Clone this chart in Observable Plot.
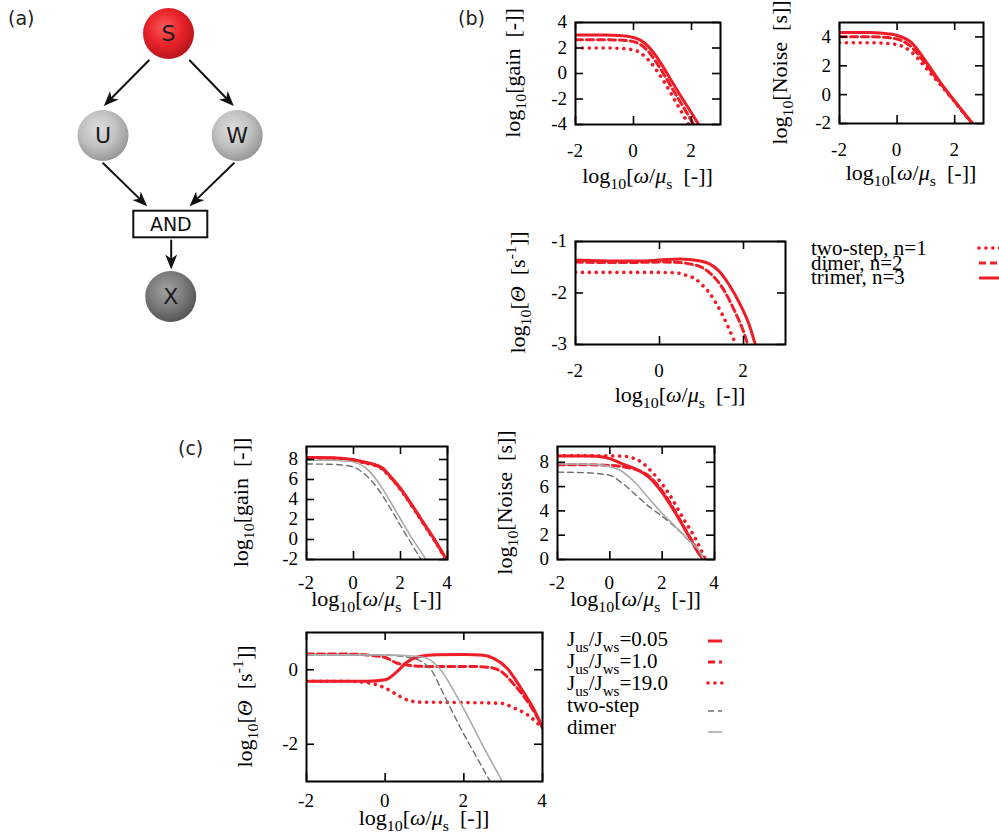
<!DOCTYPE html>
<html>
<head>
<meta charset="utf-8">
<script src="https://cdn.jsdelivr.net/npm/d3@7"></script>
<script src="https://cdn.jsdelivr.net/npm/@observablehq/plot@0.6"></script>
<style>
  html, body { margin: 0; padding: 0; background: #fff; }
  #fig { position: relative; width: 999px; height: 838px; overflow: hidden; background: #fff; }
  #fig svg { position: absolute; overflow: visible; }
</style>
</head>
<body>
<div id="fig"></div>
<script>
// ---------------- DATA ----------------
// (a) network diagram layout
const nodeNames = ["S", "U", "W", "X"];
const nodeX = [168, 102.5, 236.7, 170.2];
const nodeY = [33, 135, 135, 296];
const nodeGrad = ["gradS", "gradUW", "gradUW", "gradX"];
const edgeX1 = [148.3, 189.3, 102.7, 233.3, 170.7];
const edgeY1 = [60, 60, 162.7, 162.7, 240];
const edgeX2 = [103.3, 233.3, 146.7, 189, 170.7];
const edgeY2 = [105.5, 105.5, 205.7, 205.7, 269];
const andLabel = "AND";
const andX = [133.3, 207.3];
const andY = [210.7, 237.3];

// (b) gain
const bX_gain_twoStep = [-2, -1, -0.5, 0, 0.25, 0.5, 0.75, 1, 1.25, 1.5, 1.75, 1.9];
const bY_gain_twoStep = [2.0, 2.0, 1.97, 1.85, 1.6, 1.1, 0.4, -0.45, -1.4, -2.4, -3.4, -4.0];
const bX_gain_dimer = [-2, -1, -0.5, 0, 0.25, 0.5, 0.75, 1, 1.25, 1.5, 1.75, 2, 2.08];
const bY_gain_dimer = [2.65, 2.65, 2.62, 2.5, 2.25, 1.75, 1.0, 0.12, -0.85, -1.8, -2.75, -3.7, -4.0];
const bX_gain_trimer = [-2, -1, -0.5, 0, 0.25, 0.5, 0.75, 1, 1.25, 1.5, 1.75, 2, 2.25];
const bY_gain_trimer = [3.02, 3.02, 2.98, 2.82, 2.6, 2.15, 1.45, 0.6, -0.35, -1.3, -2.2, -3.1, -4.0];

// (b) noise
const bX_noise = [-2, -1, -0.5, 0, 0.5, 1, 1.5, 2, 2.5, 2.62];
const bY_noise_twoStep = [3.6, 3.6, 3.57, 3.47, 2.95, 1.85, 0.7, -0.5, -1.74, -2.0];
const bY_noise_dimer = [4.02, 4.02, 3.98, 3.85, 3.3, 2.1, 0.78, -0.47, -1.72, -2.0];
const bY_noise_trimer = [4.3, 4.3, 4.25, 4.1, 3.6, 2.3, 0.85, -0.45, -1.7, -2.0];

// (b) theta
const bX_theta_twoStep = [-2, -1, 0, 0.4, 0.65, 0.86, 1.0, 1.18, 1.49, 1.76, 1.82];
const bY_theta_twoStep = [-1.6, -1.6, -1.6, -1.61, -1.66, -1.73, -1.83, -1.99, -2.41, -2.89, -3.0];
const bX_theta_dimer = [-2, -1, 0, 0.5, 0.75, 1.0, 1.25, 1.5, 1.8, 2.0, 2.1];
const bY_theta_dimer = [-1.40, -1.41, -1.40, -1.41, -1.44, -1.5, -1.65, -1.9, -2.37, -2.75, -3.0];
const bX_theta_trimer = [-2, -1, -0.5, 0, 0.5, 0.9, 1.2, 1.4, 1.65, 1.95, 2.15, 2.28];
const bY_theta_trimer = [-1.36, -1.38, -1.38, -1.36, -1.34, -1.37, -1.44, -1.56, -1.83, -2.27, -2.65, -3.0];

// (c) gain
const cX_gain_red = [-2, -1, -0.5, 0, 0.5, 1, 1.25, 1.5, 2, 2.5, 3, 3.5, 3.96];
const cY_gain_j005 = [8.2, 8.18, 8.12, 7.97, 7.72, 7.42, 7.12, 6.5, 5.1, 3.4, 1.6, -0.2, -2.0];
const cY_gain_j10 = [8.17, 8.15, 8.09, 7.94, 7.68, 7.37, 7.05, 6.44, 5.05, 3.35, 1.55, -0.25, -2.05];
const cY_gain_j190 = [8.14, 8.12, 8.06, 7.91, 7.65, 7.33, 7.0, 6.4, 5.0, 3.3, 1.5, -0.3, -2.1];
const cX_gain_twoStep = [-2, -1, -0.5, 0, 0.5, 1, 1.5, 2, 2.5, 2.88];
const cY_gain_twoStep = [7.55, 7.52, 7.45, 7.24, 6.5, 5.2, 3.4, 1.4, -0.55, -2.0];
const cX_gain_dimer = [-2, -1, -0.5, 0, 0.5, 1, 1.5, 2, 2.5, 3, 3.08];
const cY_gain_dimer = [7.93, 7.92, 7.88, 7.75, 7.2, 5.9, 4.05, 2.05, 0.08, -1.7, -2.0];

// (c) noise
const cX_noise_j005 = [-2, -1, -0.5, 0, 0.5, 1, 1.5, 2, 2.5, 3, 3.5, 3.6];
const cY_noise_j005 = [8.52, 8.52, 8.5, 8.3, 7.85, 7.45, 6.75, 5.5, 3.85, 2.0, 0.2, 0.0];
const cX_noise_j10 = [-2, -1, -0.5, 0, 0.3, 0.6, 1, 1.5, 2, 2.5, 3, 3.5, 3.62];
const cY_noise_j10 = [7.8, 7.8, 7.78, 7.74, 7.7, 7.6, 7.4, 6.85, 5.65, 3.95, 2.05, 0.3, 0.0];
const cX_noise_j190 = [-2, -1, 0, 0.5, 0.75, 1, 1.25, 1.5, 1.78, 2.29, 2.8, 3.3, 3.65];
const cY_noise_j190 = [8.55, 8.55, 8.53, 8.5, 8.44, 8.25, 7.95, 7.45, 6.8, 5.3, 3.4, 1.6, 0.0];
const cX_noise_gray = [-2, -1, -0.5, 0, 0.5, 1, 1.5, 2, 2.5, 3, 3.5, 3.58];
const cY_noise_twoStep = [7.19, 7.15, 7.08, 6.92, 6.25, 5.3, 4.35, 3.55, 2.66, 1.6, 0.38, 0.0];
const cY_noise_dimer = [7.86, 7.85, 7.8, 7.65, 7.2, 6.25, 5.0, 3.8, 2.72, 1.63, 0.41, 0.0];

// (c) theta
const cX_theta_j005 = [-2, -1, -0.45, 0, 0.3, 0.55, 0.9, 1.3, 2, 2.5, 2.77, 3.1, 3.45, 3.79, 4];
const cY_theta_j005 = [-0.31, -0.31, -0.31, -0.27, -0.05, 0.2, 0.36, 0.4, 0.41, 0.39, 0.3, 0.04, -0.49, -1.08, -1.57];
const cX_theta_j10 = [-2, -1, -0.5, 0, 0.3, 0.6, 1, 2, 2.6, 2.94, 3.28, 3.62, 4];
const cY_theta_j10 = [0.42, 0.42, 0.4, 0.33, 0.18, 0.12, 0.09, 0.09, 0.07, -0.04, -0.4, -0.85, -1.52];
const cX_theta_j190 = [-2, -1, -0.5, 0, 0.3, 0.56, 0.9, 2, 2.94, 3.28, 3.62, 4];
const cY_theta_j190 = [-0.31, -0.31, -0.34, -0.49, -0.67, -0.81, -0.87, -0.88, -0.9, -1.03, -1.21, -1.57];
const cX_theta_twoStep = [-2, -1, 0, 0.5, 0.8, 1.0, 1.2, 1.41, 1.92, 2.3, 2.67];
const cY_theta_twoStep = [0.40, 0.40, 0.39, 0.35, 0.28, 0.17, -0.05, -0.49, -1.57, -2.3, -3.0];
const cX_theta_dimer = [-2, -1, 0, 0.5, 1, 1.25, 1.5, 1.75, 2, 2.43, 2.98];
const cY_theta_dimer = [0.40, 0.40, 0.40, 0.38, 0.33, 0.18, -0.13, -0.58, -1.05, -1.93, -3.0];

// ticks
const bXTicks = [-2, 0, 2];
const bGainYTicks = [-4, -2, 0, 2, 4];
const bNoiseYTicks = [-2, 0, 2, 4];
const bThetaYTicks = [-3, -2, -1];
const cXTicks = [-2, 0, 2, 4];
const cGainYTicks = [-2, 0, 2, 4, 6, 8];
const cNoiseYTicks = [0, 2, 4, 6, 8];
const cThetaYTicks = [-2, 0];

// legends
const legendBLabels = ["two-step, n=1", "dimer, n=2", "trimer, n=3"];
const legendBStyles = ["dotted", "dashed", "solid"];
const legendCRatios = ["0.05", "1.0", "19.0"];
const legendCStyles = ["solid", "dashed", "dotted", "grayDash", "graySolid"];
const legendCPlain = ["two-step", "dimer"];
const panelLetters = ["(a)", "(b)", "(c)"];

// ---------------- STYLES ----------------
const RED = "#ef1d27";
const lineStyles = {
  solid: {stroke: RED, strokeWidth: 3},
  dashed: {stroke: RED, strokeWidth: 3, strokeDasharray: "7,4"},
  dotted: {stroke: RED, strokeWidth: 3.6, strokeDasharray: "0.1,6.8", strokeLinecap: "round"},
  grayDash: {stroke: "#6f6f6f", strokeWidth: 1.4, strokeDasharray: "6,4"},
  graySolid: {stroke: "#ababab", strokeWidth: 1.6}
};
const SERIF = "'Liberation Serif', 'Times New Roman', serif";
const SANS = "'DejaVu Sans', sans-serif";
const LABEL_SIZE = 21, LABEL_STRETCH = 1.05;
const TICK_SIZE = 19, TICK_STRETCH = 1.0;

const fig = document.getElementById("fig");

function rich(sel, x, y, parts, o = {}) {
  const size = o.size || 21;
  const t = sel.append("text")
    .attr("transform", `translate(${x},${y})${o.rotate ? ` rotate(${o.rotate})` : ""}${o.stretch && o.stretch !== 1 ? ` scale(${o.stretch},1)` : ""}`)
    .attr("text-anchor", o.anchor || "start")
    .attr("font-family", SERIF)
    .attr("font-size", size)
    .attr("fill", "#000")
    .style("font-family", SERIF)
    .style("white-space", "pre");
  let cur = 0;
  for (const p of parts) {
    const shift = p.sub ? 0.28 * size : p.sup ? -0.42 * size : 0;
    const ts = t.append("tspan").text(p.t);
    if (p.sub || p.sup) ts.attr("font-size", size * 0.72);
    if (p.it) ts.attr("font-style", "italic");
    if (shift !== cur) { ts.attr("dy", shift - cur); cur = shift; }
  }
  return t;
}

const xLabelParts = [{t: "log"}, {t: "10", sub: 1}, {t: "["}, {t: "ω", it: 1}, {t: "/"}, {t: "μ", it: 1}, {t: "s", sub: 1}, {t: "  [-]]"}];
const gainLabel = [{t: "log"}, {t: "10", sub: 1}, {t: "[gain  [-]]"}];
const noiseLabel = [{t: "log"}, {t: "10", sub: 1}, {t: "[Noise  [s]]"}];
const thetaLabel = [{t: "log"}, {t: "10", sub: 1}, {t: "["}, {t: "Θ", it: 1}, {t: "  [s"}, {t: "-1", sup: 1}, {t: "]]"}];

function panel(cfg) {
  const [fx0, fy0, fx1, fy1] = cfg.frame;
  const mL = 85, mR = 20, mT = 15, mB = 70, TL = 8;
  const W = fx1 - fx0, H = fy1 - fy0;
  const marks = [];
  for (const s of cfg.series) {
    const data = s.x.map((x, i) => ({x, y: s.y[i]}));
    marks.push(Plot.line(data, {x: "x", y: "y", curve: "monotone-x", clip: true, ...lineStyles[s.style]}));
  }
  marks.push(Plot.frame({stroke: "#000", strokeWidth: 2}));
  marks.push(Plot.tickX(cfg.xt, {x: d => d, insetTop: H - TL, stroke: "#000", strokeWidth: 1.6}));
  marks.push(Plot.tickX(cfg.xt, {x: d => d, insetBottom: H - TL, stroke: "#000", strokeWidth: 1.6}));
  marks.push(Plot.tickY(cfg.yt, {y: d => d, insetRight: W - TL, stroke: "#000", strokeWidth: 1.6}));
  marks.push(Plot.tickY(cfg.yt, {y: d => d, insetLeft: W - TL, stroke: "#000", strokeWidth: 1.6}));
  const svg = Plot.plot({
    width: W + mL + mR, height: H + mT + mB,
    marginLeft: mL, marginRight: mR, marginTop: mT, marginBottom: mB,
    x: {domain: cfg.xd, axis: null},
    y: {domain: cfg.yd, axis: null},
    style: {background: "transparent", overflow: "visible"},
    marks
  });
  svg.style.left = (fx0 - mL) + "px";
  svg.style.top = (fy0 - mT) + "px";
  svg.style.maxWidth = "none";
  svg.style.overflow = "visible";
  svg.style.background = "transparent";
  const s = d3.select(svg);
  const sx = svg.scale("x"), sy = svg.scale("y");
  // tick labels placed with the plot's own scales
  for (const v of cfg.xt) {
    rich(s, sx.apply(v), mT + H + cfg.tickDy, [{t: String(v)}], {anchor: "middle", size: TICK_SIZE, stretch: TICK_STRETCH});
  }
  for (const v of cfg.yt) {
    rich(s, mL - 8, sy.apply(v) + 0.34 * TICK_SIZE, [{t: String(v)}], {anchor: "end", size: TICK_SIZE, stretch: TICK_STRETCH});
  }
  rich(s, mL + W / 2, mT + H + cfg.xlabDy, xLabelParts, {anchor: "middle", size: LABEL_SIZE, stretch: LABEL_STRETCH});
  rich(s, mL - cfg.ylabDx, mT + H / 2, cfg.ylab, {anchor: "middle", rotate: -90, size: LABEL_SIZE, stretch: LABEL_STRETCH});
  fig.appendChild(svg);
}

// ---------------- (a) diagram ----------------
const nodes = nodeNames.map((n, i) => ({name: n, x: nodeX[i], y: nodeY[i], grad: nodeGrad[i]}));
const edges = edgeX1.map((x1, i) => ({x1, y1: edgeY1[i], x2: edgeX2[i], y2: edgeY2[i]}));
const andBox = {x1: andX[0], x2: andX[1], y1: andY[0], y2: andY[1], label: andLabel};
const stealth = {
  draw(ctx, size) {
    const r = Math.sqrt(size / Math.PI);
    const L = 2 * r, Wd = 0.8 * r;
    ctx.moveTo(0, 0);
    ctx.lineTo(-L, -Wd);
    ctx.lineTo(-0.72 * L, 0);
    ctx.lineTo(-L, Wd);
    ctx.closePath();
  }
};
const diag = Plot.plot({
  width: 260, height: 330, margin: 0,
  x: {domain: [0, 260], range: [0, 260], axis: null},
  y: {domain: [0, 330], range: [0, 330], axis: null},
  color: {type: "identity"},
  style: {background: "transparent", overflow: "visible"},
  marks: [
    Plot.arrow(edges, {x1: "x1", y1: "y1", x2: "x2", y2: "y2", headLength: 0, insetEnd: 8, stroke: "#111", strokeWidth: 2}),
    Plot.dot(edges, {x: "x2", y: "y2", r: 7.5, symbol: stealth, fill: "#111", stroke: null,
      rotate: d => Math.atan2(d.y2 - d.y1, d.x2 - d.x1) * 180 / Math.PI}),
    Plot.dot(nodes, {x: "x", y: "y", r: 25.5, fill: d => `url(#${d.grad})`}),
    Plot.text(nodes, {x: "x", y: "y", text: "name", fontSize: 22, fontFamily: SANS, fill: "#1b1b1b"}),
    Plot.rect([andBox], {x1: "x1", x2: "x2", y1: "y1", y2: "y2", fill: "#fff", stroke: "#111", strokeWidth: 2}),
    Plot.text([andBox], {x: d => (d.x1 + d.x2) / 2, y: d => (d.y1 + d.y2) / 2, text: "label", fontSize: 19, fontFamily: SANS, fill: "#111"})
  ]
});
diag.style.left = "0px"; diag.style.top = "0px"; diag.style.maxWidth = "none";
diag.style.background = "transparent";
{
  const defs = d3.select(diag).insert("defs", ":first-child");
  const grads = {
    gradS: ["#fb5a5a", "#e8232a", "#b01218"],
    gradUW: ["#dedede", "#c2c2c2", "#8f8f8f"],
    gradX: ["#a2a2a2", "#7c7c7c", "#4e4e4e"]
  };
  for (const [id, c] of Object.entries(grads)) {
    const g = defs.append("radialGradient").attr("id", id).attr("cx", "42%").attr("cy", "38%").attr("r", "68%");
    g.append("stop").attr("offset", "0%").attr("stop-color", c[0]);
    g.append("stop").attr("offset", "50%").attr("stop-color", c[1]);
    g.append("stop").attr("offset", "100%").attr("stop-color", c[2]);
  }
}
fig.appendChild(diag);

// ---------------- (b) panels ----------------
panel({frame: [575, 22, 720, 124], xd: [-2, 3], yd: [-4, 4], xt: bXTicks, yt: bGainYTicks,
  tickDy: 33, xlabDy: 59, ylabDx: 55, ylab: gainLabel,
  series: [
    {x: bX_gain_twoStep, y: bY_gain_twoStep, style: "dotted"},
    {x: bX_gain_dimer, y: bY_gain_dimer, style: "dashed"},
    {x: bX_gain_trimer, y: bY_gain_trimer, style: "solid"}
  ]});
panel({frame: [839, 22, 983, 123], xd: [-2, 3], yd: [-2, 5], xt: bXTicks, yt: bNoiseYTicks,
  tickDy: 33, xlabDy: 57, ylabDx: 52, ylab: noiseLabel,
  series: [
    {x: bX_noise, y: bY_noise_twoStep, style: "dotted"},
    {x: bX_noise, y: bY_noise_dimer, style: "dashed"},
    {x: bX_noise, y: bY_noise_trimer, style: "solid"}
  ]});
panel({frame: [575, 241, 785, 344], xd: [-2, 3], yd: [-3, -1], xt: bXTicks, yt: bThetaYTicks,
  tickDy: 33, xlabDy: 58, ylabDx: 50, ylab: thetaLabel,
  series: [
    {x: bX_theta_twoStep, y: bY_theta_twoStep, style: "dotted"},
    {x: bX_theta_dimer, y: bY_theta_dimer, style: "dashed"},
    {x: bX_theta_trimer, y: bY_theta_trimer, style: "solid"}
  ]});

// ---------------- (c) panels ----------------
panel({frame: [306, 446, 447, 559], xd: [-2, 4], yd: [-2, 9.3], xt: cXTicks, yt: cGainYTicks,
  tickDy: 30, xlabDy: 47, ylabDx: 58, ylab: gainLabel,
  series: [
    {x: cX_gain_red, y: cY_gain_j190, style: "dotted"},
    {x: cX_gain_red, y: cY_gain_j10, style: "dashed"},
    {x: cX_gain_red, y: cY_gain_j005, style: "solid"},
    {x: cX_gain_twoStep, y: cY_gain_twoStep, style: "grayDash"},
    {x: cX_gain_dimer, y: cY_gain_dimer, style: "graySolid"}
  ]});
panel({frame: [557, 446, 714, 559], xd: [-2, 4], yd: [0, 9.3], xt: cXTicks, yt: cNoiseYTicks,
  tickDy: 30, xlabDy: 47, ylabDx: 45, ylab: noiseLabel,
  series: [
    {x: cX_noise_j190, y: cY_noise_j190, style: "dotted"},
    {x: cX_noise_j10, y: cY_noise_j10, style: "dashed"},
    {x: cX_noise_j005, y: cY_noise_j005, style: "solid"},
    {x: cX_noise_gray, y: cY_noise_twoStep, style: "grayDash"},
    {x: cX_noise_gray, y: cY_noise_dimer, style: "graySolid"}
  ]});
panel({frame: [306, 632, 542, 781], xd: [-2, 4], yd: [-3, 1], xt: cXTicks, yt: cThetaYTicks,
  tickDy: 26, xlabDy: 44, ylabDx: 54, ylab: thetaLabel,
  series: [
    {x: cX_theta_j190, y: cY_theta_j190, style: "dotted"},
    {x: cX_theta_j10, y: cY_theta_j10, style: "dashed"},
    {x: cX_theta_j005, y: cY_theta_j005, style: "solid"},
    {x: cX_theta_twoStep, y: cY_theta_twoStep, style: "grayDash"},
    {x: cX_theta_dimer, y: cY_theta_dimer, style: "graySolid"}
  ]});

// ---------------- overlay: panel letters & legends ----------------
const ov = d3.select(fig).append("svg")
  .attr("width", 999).attr("height", 838)
  .style("left", "0px").style("top", "0px").style("pointer-events", "none");
const letterPos = [[8, 25], [458, 25], [178, 455]];
panelLetters.forEach((l, i) => {
  ov.append("text").attr("x", letterPos[i][0]).attr("y", letterPos[i][1])
    .attr("font-family", SANS).attr("font-size", 19).attr("fill", "#222").text(l);
});
function sample(x1, x2, y, style) {
  const st = lineStyles[style];
  ov.append("line").attr("x1", x1).attr("x2", x2).attr("y1", y).attr("y2", y)
    .attr("stroke", st.stroke).attr("stroke-width", st.strokeWidth)
    .attr("stroke-dasharray", st.strokeDasharray || null)
    .attr("stroke-linecap", st.strokeLinecap || "butt");
}
// legend (b)
legendBLabels.forEach((l, i) => {
  rich(ov, 811, 255 + i * 14.5, [{t: l}], {size: 21});
  sample(979, 1004, 248 + i * 15, legendBStyles[i]);
});
// legend (c)
legendCRatios.forEach((r, i) => {
  rich(ov, 567, 646 + i * 22, [{t: "J"}, {t: "us", sub: 1}, {t: "/J"}, {t: "ws", sub: 1}, {t: "=" + r}], {size: 21});
});
legendCPlain.forEach((l, i) => {
  rich(ov, 567, 712 + i * 22, [{t: l}], {size: 21});
});
[641, 662, 683, 711, 732].forEach((y, i) => sample(708, 722, y, legendCStyles[i]));
</script>
</body>
</html>
